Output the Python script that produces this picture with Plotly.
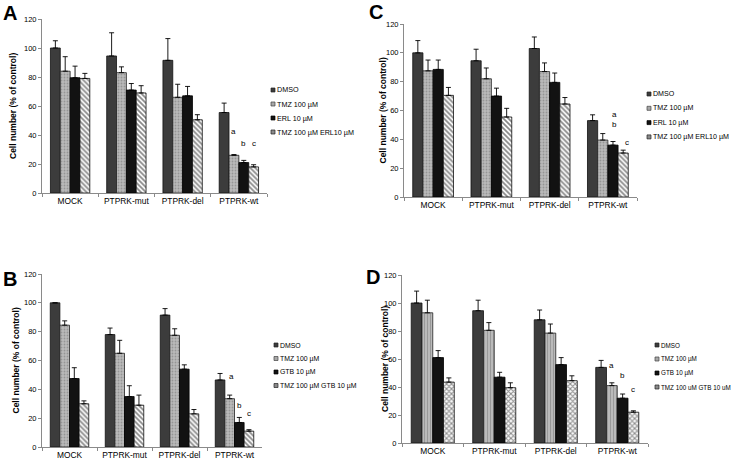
import plotly.graph_objects as go

categories = ["MOCK", "PTPRK-mut", "PTPRK-del", "PTPRK-wt"]
y_ticks = [0, 20, 40, 60, 80, 100, 120]
y_title = "Cell number (% of control)"

# Panel A (ERL)
A_names = ["DMSO", "TMZ 100 µM", "ERL 10 µM", "TMZ 100 µM ERL10 µM"]
A_dmso = [100, 94.5, 91.5, 55.5]
A_dmso_err = [5, 16, 15, 6.5]
A_tmz = [84, 83, 66, 26]
A_tmz_err = [10, 4, 9, 0.5]
A_erl = [79.5, 71, 67, 21]
A_erl_err = [8, 4.5, 6.5, 1.5]
A_combo = [79, 69, 50.5, 18]
A_combo_err = [3.5, 5, 3.5, 1.5]
A_letters = ["a", "b", "c"]
A_letter_y = [38, 29.5, 29.5]

# Panel C (ERL)
C_names = ["DMSO", "TMZ 100 µM", "ERL 10 µM", "TMZ 100 µM ERL10 µM"]
C_dmso = [100, 94.5, 103, 53]
C_dmso_err = [8.5, 8, 8, 4]
C_tmz = [87.5, 82, 87, 39.5]
C_tmz_err = [7.5, 7.5, 6, 4.5]
C_erl = [88.5, 70, 79.5, 36]
C_erl_err = [6.5, 5.5, 6.5, 2.5]
C_combo = [70.5, 55.5, 64.5, 30.5]
C_combo_err = [5.5, 6, 4.5, 2]
C_letters = ["a", "b", "c"]
C_letter_y = [53, 46, 33.5]

# Panel B (GTB)
B_names = ["DMSO", "TMZ 100 µM", "GTB 10 µM", "TMZ 100 µM GTB 10 µM"]
B_dmso = [100, 78, 91.5, 46.5]
B_dmso_err = [0, 4.5, 4.5, 4.5]
B_tmz = [84.5, 65, 77.5, 33.5]
B_tmz_err = [3, 9, 4.5, 2.5]
B_gtb = [47.5, 35, 54, 17]
B_gtb_err = [7.5, 7.5, 3, 3.5]
B_combo = [30, 29, 23, 11]
B_combo_err = [2, 7, 3, 1]
B_letters = ["a", "b", "c"]
B_letter_y = [44.5, 24, 19]

# Panel D (GTB)
D_names = ["DMSO", "TMZ 100 µM", "GTB 10 µM", "TMZ 100 uM GTB 10 uM"]
D_dmso = [100, 94.5, 88, 54]
D_dmso_err = [8.5, 7.5, 7, 5]
D_tmz = [93, 80.5, 78.5, 41]
D_tmz_err = [9, 5.5, 6.5, 2]
D_gtb = [61, 47, 56, 32]
D_gtb_err = [5, 3.5, 5, 3]
D_combo = [43.5, 39.5, 44.5, 22]
D_combo_err = [3, 3.5, 3.5, 1]
D_letters = ["a", "b", "c"]
D_letter_y = [51, 43.5, 33.5]

W, H = 737, 462
FONT = "Arial, 'Liberation Sans', sans-serif"
BLACK = "#000000"

def px(x):
    return x / W

def py(y):
    return 1 - y / H

BARGAP = 0.3
BAR_W = (1 - BARGAP) / 4

dmso_style = dict(color="#3c3c3c", line=dict(color="#111", width=0.8))
erl_style = dict(color="#121212", line=dict(color="#000", width=0.8))

def tmz_style(shape):
    return dict(color="#a8a8a8", line=dict(color="#222", width=0.8),
                pattern=dict(shape=shape, fgcolor="#707070", bgcolor="#bababa",
                             size=3, solidity=0.3))

def combo_style(shape):
    return dict(color="white", line=dict(color="#111", width=0.8),
                pattern=dict(shape=shape, fgcolor="#111", bgcolor="white",
                             size=3.5, solidity=0.5))

# legend swatch colours (small squares next to the names)
swatch_fill = ["#3c3c3c", "#a8a8a8", "#121212", "#8a8a8a"]
swatch_line = ["#222", "#444", "#000", "#222"]

panels = [
    dict(k="", names=A_names, vals=[A_dmso, A_tmz, A_erl, A_combo],
         errs=[A_dmso_err, A_tmz_err, A_erl_err, A_combo_err],
         styles=[dmso_style, tmz_style("."), erl_style, combo_style("\\")],
         letters=A_letters, ly=A_letter_y, lx=[1, 2, 3], nudge=[0, 0, 0],
         dom_x=[42, 267], dom_y=[19, 193], leg=(271, 90, 14), leg_font=7.2,
         label="A", label_pos=(1, 13), title_x=13),
    dict(k="2", names=C_names, vals=[C_dmso, C_tmz, C_erl, C_combo],
         errs=[C_dmso_err, C_tmz_err, C_erl_err, C_combo_err],
         styles=[dmso_style, tmz_style("."), erl_style, combo_style("\\")],
         letters=C_letters, ly=C_letter_y, lx=[1, 2, 3], nudge=[0.2, 0.03, 0.06],
         dom_x=[404, 637], dom_y=[24, 197], leg=(647, 94, 14.3), leg_font=7.1,
         label="C", label_pos=(367, 12), title_x=383),
    dict(k="3", names=B_names, vals=[B_dmso, B_tmz, B_gtb, B_combo],
         errs=[B_dmso_err, B_tmz_err, B_gtb_err, B_combo_err],
         styles=[dmso_style, tmz_style("."), erl_style, combo_style("\\")],
         letters=B_letters, ly=B_letter_y, lx=[1, 2, 3], nudge=[0.03, 0, 0],
         dom_x=[42, 262], dom_y=[274, 447], leg=(274, 345, 13.5), leg_font=6.9,
         label="B", label_pos=(1, 279), title_x=15),
    dict(k="4", names=D_names, vals=[D_dmso, D_tmz, D_gtb, D_combo],
         errs=[D_dmso_err, D_tmz_err, D_gtb_err, D_combo_err],
         styles=[dmso_style, tmz_style("|"), erl_style, combo_style("x")],
         letters=D_letters, ly=D_letter_y, lx=[1, 2, 3], nudge=[0, 0, 0],
         dom_x=[402, 648], dom_y=[275, 443], leg=(655, 345, 14), leg_font=6.3,
         label="D", label_pos=(364, 277), title_x=385),
]

fig = go.Figure()
annotations = []
shapes = []
layout = dict(
    width=W, height=H, margin=dict(l=0, r=0, t=0, b=0),
    paper_bgcolor="white", plot_bgcolor="white",
    font=dict(family=FONT, color=BLACK),
    barmode="group", bargap=BARGAP, bargroupgap=0, showlegend=False,
)

for p in panels:
    k = p["k"]
    for i, (name, vals, errs, style) in enumerate(zip(p["names"], p["vals"], p["errs"], p["styles"])):
        fig.add_trace(go.Bar(
            x=categories, y=vals, name=name,
            xaxis="x" + k, yaxis="y" + k,
            marker=style,
            error_y=dict(type="data", array=errs, arrayminus=[0] * len(errs),
                         symmetric=False, color=BLACK, thickness=0.9, width=2.5),
        ))
    layout["xaxis" + k] = dict(
        domain=[px(p["dom_x"][0]), px(p["dom_x"][1])], anchor="y" + k,
        type="category", showline=True, linecolor="#8a8a8a", linewidth=1,
        ticks="outside", tickson="boundaries", ticklen=3, tickcolor="#8a8a8a",
        tickangle=0, automargin=False,
        tickfont=dict(size=8.4, family=FONT, color=BLACK), showgrid=False, zeroline=False,
        fixedrange=True,
    )
    layout["yaxis" + k] = dict(
        domain=[py(p["dom_y"][1]), py(p["dom_y"][0])], anchor="x" + k,
        range=[0, 120], tickvals=y_ticks, showline=True, linecolor="#8a8a8a",
        linewidth=1, ticks="outside", ticklen=3, tickcolor="#8a8a8a",
        automargin=False,
        tickfont=dict(size=7.5, family=FONT, color=BLACK), showgrid=False, zeroline=False,
        fixedrange=True,
    )
    # y-axis title (rotated text placed beside the axis)
    annotations.append(dict(
        x=px(p["title_x"]), y=py((p["dom_y"][0] + p["dom_y"][1]) / 2),
        xref="paper", yref="paper", text="<b>%s</b>" % y_title, textangle=-90,
        showarrow=False, xanchor="center", yanchor="middle",
        font=dict(size=8.5, family=FONT, color=BLACK),
    ))
    # manual legend: small swatch + name
    sx, y0, dy = p["leg"]
    for j, name in enumerate(p["names"]):
        yc = y0 + j * dy
        shapes.append(dict(
            type="rect", xref="paper", yref="paper",
            x0=px(sx), x1=px(sx + 4), y0=py(yc + 2), y1=py(yc - 2),
            fillcolor=swatch_fill[j], line=dict(color=swatch_line[j], width=0.7),
        ))
        annotations.append(dict(
            x=px(sx + 4.5), y=py(yc), xref="paper", yref="paper", text=name,
            showarrow=False, xanchor="left", yanchor="middle",
            font=dict(size=p["leg_font"], family=FONT, color=BLACK), borderpad=0,
        ))
    for letter, yv, si, nd in zip(p["letters"], p["ly"], p["lx"], p["nudge"]):
        xpos = 3 + (-1.5 + si) * BAR_W + nd
        annotations.append(dict(
            x=xpos, y=yv, xref="x" + k, yref="y" + k, text=letter,
            showarrow=False, font=dict(size=8, family=FONT, color=BLACK), yanchor="bottom",
        ))
    annotations.append(dict(
        x=px(p["label_pos"][0]), y=py(p["label_pos"][1]), xref="paper", yref="paper",
        text="<b>%s</b>" % p["label"], showarrow=False, xanchor="left", yanchor="middle",
        font=dict(size=20, family=FONT, color=BLACK),
    ))

layout["annotations"] = annotations
layout["shapes"] = shapes
fig.update_layout(**layout)
fig.write_html("out.html", config={"displayModeBar": False},
               post_script="document.body.style.margin='0px';")
